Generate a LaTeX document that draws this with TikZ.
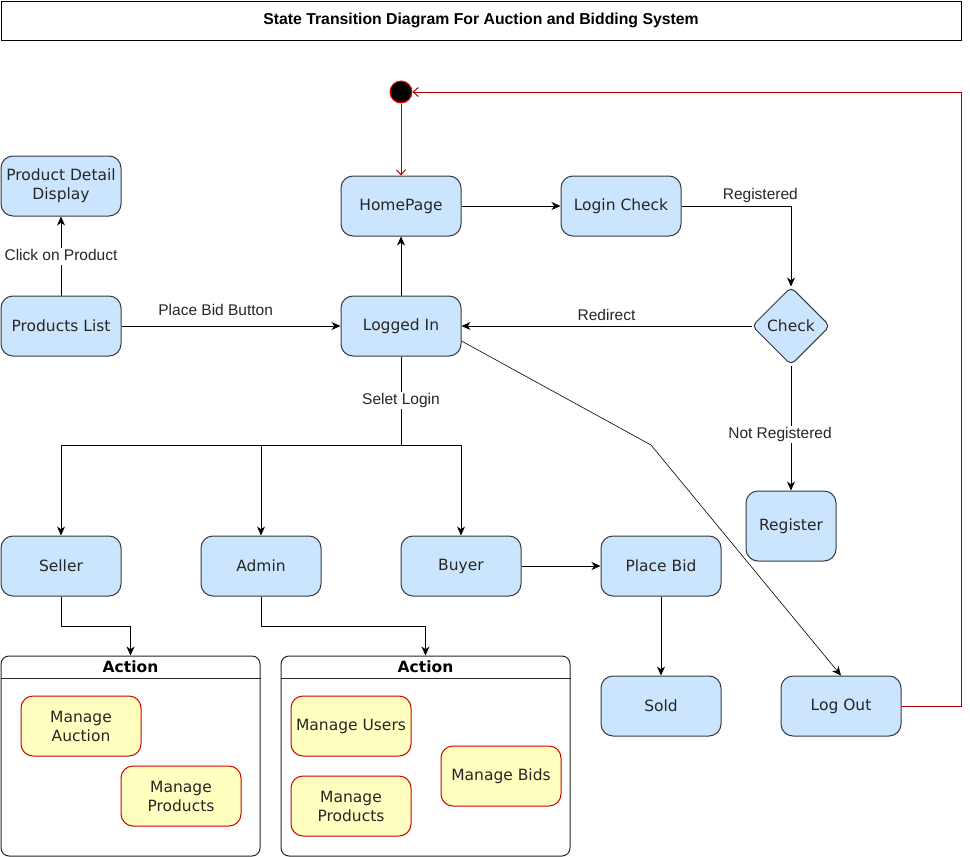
\documentclass[tikz,border=0pt]{standalone}
\usepackage{fontspec}
\usepackage{tikz}
\usetikzlibrary{shapes.geometric,arrows.meta}
\newfontfamily\statefont{DejaVu Sans}
\newfontfamily\labelfont{Liberation Sans}
\definecolor{statefill}{HTML}{CCE5FF}
\definecolor{stateline}{HTML}{36393D}
\definecolor{actfill}{HTML}{FFFFC0}
\definecolor{actline}{HTML}{D00000}
\definecolor{redline}{HTML}{B20000}

\begin{document}
\begin{tikzpicture}
	[x=1pt, y=-1pt, line width=1pt,
	state_style/.style={rectangle, rounded corners=12pt, draw=stateline, fill=statefill, minimum width=120pt, minimum height=60pt, align=center, text=black!85, font={\statefont\fontsize{15.5}{19}\selectfont}},
	act_style/.style={state_style, draw=actline, fill=actfill},
	label_style/.style={font={\labelfont\fontsize{15.5}{18}\selectfont}, text=black!85, fill=white, inner sep=1pt, text height=11.5pt, text depth=3.5pt},
	edge_style/.style={draw=black, -{Stealth[length=9pt, width=8pt, inset=2.8pt]}},
	red_style/.style={draw=redline, -{Straight Barb[length=5pt, width=9pt]}}]
	\useasboundingbox (0,0) rectangle (970,857);

	\node[draw, minimum width=960pt, minimum height=39pt, font={\labelfont\bfseries\fontsize{15.8}{18}\selectfont}] (title) at (481,20.5) {State Transition Diagram For Auction and Bidding System};

	\node[circle, draw=red, fill=black, minimum size=22pt, inner sep=0pt] (init) at (401,92) {};
	\node[state_style] (home) at (401,206) {HomePage};
	\node[state_style] (login_check) at (621,206) {Login Check};
	\node[state_style] (logged_in) at (401,326) {Logged In};
	\node[state_style] (plist) at (61,326) {Products List};
	\node[state_style] (pdetail) at (61,186) {Product Detail\\Display};
	\node[diamond, draw=stateline, fill=statefill, minimum width=78pt, minimum height=78pt, inner sep=0pt, rounded corners=5pt, text=black!85, font={\statefont\fontsize{15.5}{19}\selectfont}] (check) at (791,326) {Check};
	\node[state_style, minimum width=90pt, minimum height=70pt] (register) at (791,526) {Register};
	\node[state_style] (seller) at (61,566) {Seller};
	\node[state_style] (admin) at (261,566) {Admin};
	\node[state_style] (buyer) at (461,566) {Buyer};
	\node[state_style] (place_bid) at (661,566) {Place Bid};
	\node[state_style] (sold) at (661,706) {Sold};
	\node[state_style] (logout) at (841,706) {Log Out};

	% action boxes
	\node[draw=black!85, rounded corners=8pt, minimum width=259pt, minimum height=200pt] (action_a) at (130.5,756) {};
	\node[draw=black!85, rounded corners=8pt, minimum width=289pt, minimum height=200pt] (action_b) at (425.5,756) {};
	\node[font={\statefont\bfseries\fontsize{15.5}{19}\selectfont}] at (130.5,667) {Action};
	\node[font={\statefont\bfseries\fontsize{15.5}{19}\selectfont}] at (425.5,667) {Action};
	\draw[black!85] (action_a.west |- 0,678) -- (action_a.east |- 0,678);
	\draw[black!85] (action_b.west |- 0,678) -- (action_b.east |- 0,678);
	\node[act_style] (manage_auction) at (81,726) {Manage\\Auction};
	\node[act_style] (manage_products_a) at (181,796) {Manage\\Products};
	\node[act_style] (manage_users) at (351,726) {Manage Users};
	\node[act_style] (manage_products_b) at (351,806) {Manage\\Products};
	\node[act_style] (manage_bids) at (501,776) {Manage Bids};

	\coordinate (split) at (401,445);
	\coordinate (bend) at (651,445);

	\draw[red_style] (init) -- (home);
	\draw[edge_style] (plist) -- node[label_style]{Click on Product} (pdetail);
	\draw[edge_style] (plist) -- node[label_style, fill=none, pos=0.43, above=5.5pt]{Place Bid Button} (logged_in);
	\draw[edge_style] (logged_in) -- (home);
	\draw[edge_style] (home) -- (login_check);
	\draw[edge_style] (login_check) -| node[label_style, fill=none, pos=0.36, above=1.5pt]{Registered} (check);
	\draw[edge_style] (check) -- node[label_style, fill=none, above=0.5pt]{Redirect} (logged_in);
	\draw[edge_style] (check) -- node[label_style, pos=0.55, xshift=-11pt]{Not Registered} (register);
	\draw (logged_in) -- node[label_style]{Selet Login} (split);
	\draw[edge_style] (split) -| (seller);
	\draw[edge_style] (split) -| (admin);
	\draw[edge_style] (split) -| (buyer);
	\draw[edge_style, line width=0.6pt] ([yshift=-15pt]logged_in.east) -- (bend) -- (logout.north);
	\draw[edge_style] (buyer) -- (place_bid);
	\draw[edge_style] (place_bid) -- (sold);
	\draw[edge_style] (seller.south) -- ++(0,30) -| (action_a.north);
	\draw[edge_style] (admin.south) -- ++(0,30) -| (action_b.north);
	\draw[red_style] (logout.east) -- ++(60,0) |- (init.east);
\end{tikzpicture}
\end{document}
